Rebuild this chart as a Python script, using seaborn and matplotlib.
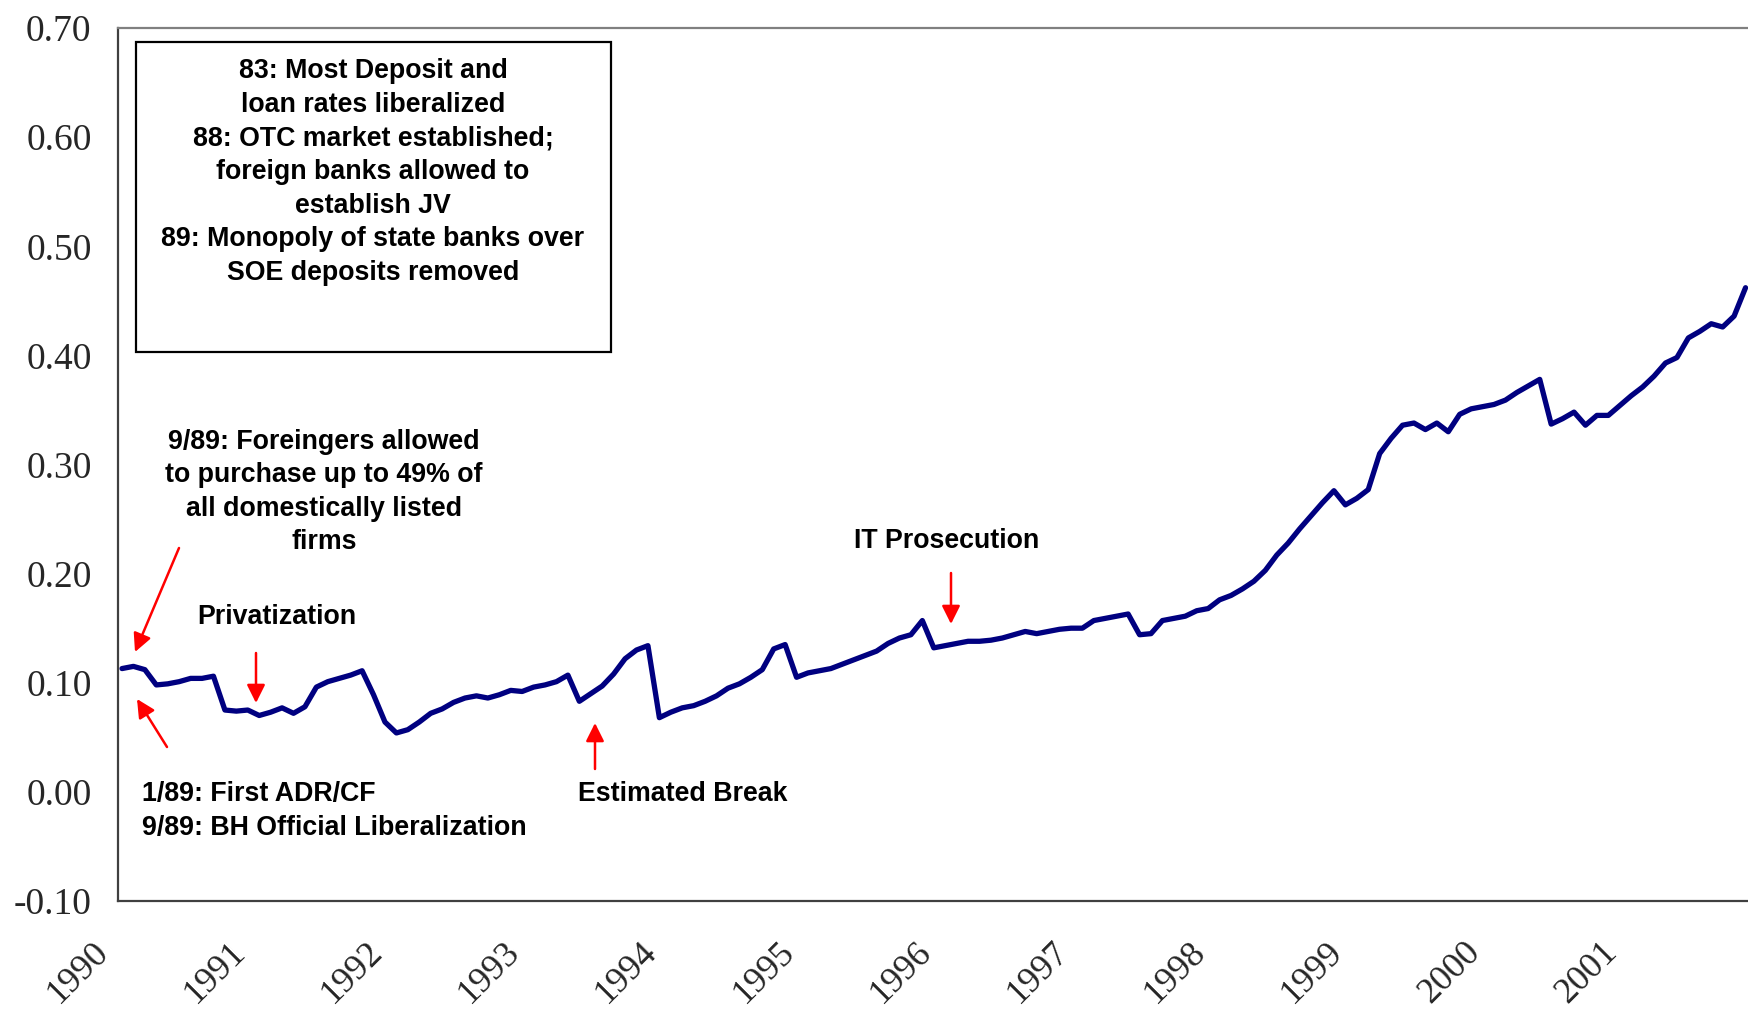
import numpy as np
import pandas as pd
import matplotlib
matplotlib.use("Agg")
import matplotlib.pyplot as plt
import matplotlib.transforms as mtransforms
from matplotlib.patches import Rectangle
import seaborn as sns

# ---------------- data (monthly, Jan 1990 onward) ----------------
values = [
    0.113, 0.115, 0.112, 0.098, 0.099, 0.101, 0.104, 0.104, 0.106, 0.075, 0.074, 0.075,
    0.070, 0.073, 0.077, 0.072, 0.078, 0.096, 0.101, 0.104, 0.107, 0.111, 0.089, 0.064,
    0.054, 0.057, 0.064, 0.072, 0.076, 0.082, 0.086, 0.088, 0.086, 0.089, 0.093, 0.092,
    0.096, 0.098, 0.101, 0.107, 0.083, 0.090, 0.097, 0.108, 0.122, 0.130, 0.134, 0.068,
    0.073, 0.077, 0.079, 0.083, 0.088, 0.095, 0.099, 0.105, 0.112, 0.131, 0.135, 0.105,
    0.109, 0.111, 0.113, 0.117, 0.121, 0.125, 0.129, 0.136, 0.141, 0.144, 0.157, 0.132,
    0.134, 0.136, 0.138, 0.138, 0.139, 0.141, 0.144, 0.147, 0.145, 0.147, 0.149, 0.150,
    0.150, 0.157, 0.159, 0.161, 0.163, 0.144, 0.145, 0.157, 0.159, 0.161, 0.166, 0.168,
    0.176, 0.180, 0.186, 0.193, 0.203, 0.217, 0.228, 0.241, 0.253, 0.265, 0.276, 0.263,
    0.269, 0.277, 0.310, 0.324, 0.336, 0.338, 0.332, 0.338, 0.330, 0.346, 0.351, 0.353,
    0.355, 0.359, 0.366, 0.372, 0.378, 0.337, 0.342, 0.348, 0.336, 0.345, 0.345, 0.354,
    0.363, 0.371, 0.381, 0.393, 0.398, 0.416, 0.422, 0.429, 0.426, 0.436, 0.462,
]
start_year = 1990
year_ticks = list(range(1990, 2002))
year_labels = [str(y) for y in year_ticks]
y_ticks = [-0.10, 0.00, 0.10, 0.20, 0.30, 0.40, 0.50, 0.60, 0.70]
y_labels = ["-0.10", "0.00", "0.10", "0.20", "0.30", "0.40", "0.50", "0.60", "0.70"]

box_text = ("83: Most Deposit and\nloan rates liberalized\n88: OTC market established;\n"
            "foreign banks allowed to\nestablish JV\n89: Monopoly of state banks over\n"
            "SOE deposits removed")
foreign_text = "9/89: Foreingers allowed\nto purchase up to 49% of\nall domestically listed\nfirms"
adr_text = "1/89: First ADR/CF\n9/89: BH Official Liberalization"

df = pd.DataFrame({
    "t": start_year + (np.arange(len(values)) + 0.35) / 12.0,
    "v": values,
})

# ---------------- figure ----------------
sns.set_style("white")
plt.rcParams["font.family"] = ["Liberation Sans", "DejaVu Sans"]

fig = plt.figure(figsize=(17.49, 10.11), dpi=100)
ax = fig.add_axes([118 / 1749, 110 / 1011, 1631 / 1749, 873 / 1011])

sns.lineplot(data=df, x="t", y="v", ax=ax, color="#000080", linewidth=3.8, legend=False)

ax.set_xlim(1990, 1990 + 1631 / 137.2)
ax.set_ylim(-0.10, 0.70)
ax.set_xlabel("")
ax.set_ylabel("")

ax.set_yticks(y_ticks)
ax.set_yticklabels(y_labels, fontfamily="Liberation Serif", fontsize=27)
ax.set_xticks(year_ticks)
ax.set_xticklabels(year_labels, fontfamily="Liberation Serif", fontsize=26,
                   rotation=45, ha="right", va="top")

ax.tick_params(axis="y", direction="out", length=8, width=1.2, color="#404040", pad=11)
ax.tick_params(axis="x", direction="out", length=8, width=1.0, color="#404040", pad=17)

offset = mtransforms.ScaledTranslation(-3 / 100, 0, fig.dpi_scale_trans)
for lbl in ax.get_xticklabels():
    lbl.set_transform(lbl.get_transform() + offset)

for side in ["left", "bottom"]:
    ax.spines[side].set_color("#404040")
    ax.spines[side].set_linewidth(1.6)
ax.spines["top"].set_color("#808080")
ax.spines["top"].set_linewidth(1.6)
ax.spines["right"].set_visible(False)
ax.grid(False)


def fx(px):
    return (px - 118) / 1631


def fy(py):
    return (901 - py) / 873


bold = dict(fontfamily=["Liberation Sans", "DejaVu Sans"], fontweight="bold",
            fontsize=19.3, color="black")

# text box
ax.add_patch(Rectangle((fx(136), fy(352)), fx(611) - fx(136), fy(42) - fy(352),
                       transform=ax.transAxes, fill=False, edgecolor="black",
                       linewidth=1.6, zorder=3))
ax.text(fx(373), fy(172), box_text, transform=ax.transAxes, ha="center", va="center",
        linespacing=1.38, **bold)

ax.text(fx(324), fy(492), foreign_text, transform=ax.transAxes, ha="center",
        va="center", linespacing=1.38, **bold)
ax.text(fx(277), fy(617), "Privatization", transform=ax.transAxes, ha="center",
        va="center", **bold)
ax.text(fx(947), fy(541), "IT Prosecution", transform=ax.transAxes, ha="center",
        va="center", **bold)
ax.text(fx(683), fy(794), "Estimated Break", transform=ax.transAxes, ha="center",
        va="center", **bold)
ax.text(fx(142), fy(811), adr_text, transform=ax.transAxes, ha="left",
        va="center", linespacing=1.38, **bold)

arrow_style = dict(arrowstyle="-|>,head_length=1.1,head_width=0.55", color="red",
                   lw=1.8, shrinkA=0, shrinkB=0)
arrows = [
    ((179, 548), (135, 652)),
    ((167, 747), (137, 699)),
    ((256, 653), (256, 703)),
    ((595, 769), (595, 723)),
    ((951, 573), (951, 624)),
]
for (tx, ty), (hx, hy) in arrows:
    ax.annotate("", xy=(fx(hx), fy(hy)), xytext=(fx(tx), fy(ty)),
                xycoords="axes fraction", textcoords="axes fraction",
                arrowprops=arrow_style)

fig.savefig("out.png", dpi=100)
